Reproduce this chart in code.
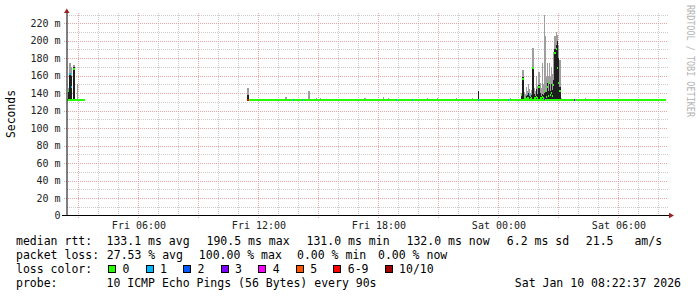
<!DOCTYPE html>
<html>
<head>
<meta charset="utf-8">
<script src="https://cdn.jsdelivr.net/npm/d3@7"></script>
<style>
  body { margin: 0; background: #fff; }
  svg { display: block; font-family: "DejaVu Sans Mono", monospace; }
</style>
</head>
<body>
<div id="chart"></div>
<script>
// Data
const startTime = "2026-01-09 02:22:37";
const endTime = "2026-01-10 08:22:37";

const yTickValues = [0, 20, 40, 60, 80, 100, 120, 140, 160, 180, 200, 220];
const yMinorValues = [10, 30, 50, 70, 90, 110, 130, 150, 170, 190, 210, 230];

const lossLabels = ["0", "1", "2", "3", "4", "5", "6-9", "10/10"];
const lossColors = ["#26ff00", "#00b8ff", "#0059ff", "#7e00ff", "#ff00ff", "#ff5500", "#ff0000", "#a00000"];

const rttFloor = 131.0;
const rttBase = 132.0;

// stretches where the median sits flat at 132 ms with no loss
const flatFrom = ["2026-01-09 02:26", "2026-01-09 11:32"];
const flatTo = ["2026-01-09 03:20", "2026-01-10 08:22"];

// time, minutes covered, median, dark smoke top, light smoke top (ms), loss index
const smoke = [
  ["2026-01-09 02:29", 3, 143, 143, 146, 0],
  ["2026-01-09 02:32", 6, 162, 163, 174, 1],
  ["2026-01-09 02:38", 3, 147, 160, 170, 1],
  ["2026-01-09 02:44", 6, 168, 170, 172, 0],
  ["2026-01-09 02:56", 3, 132, 132, 151, 0],
  ["2026-01-09 11:26", 6, 132, 138, 146, 6],
  ["2026-01-09 13:20", 6, 132, 132, 136, 0],
  ["2026-01-09 13:44", 3, 132, 132, 132, 1],
  ["2026-01-09 14:11", 3, 132, 132, 132, 1],
  ["2026-01-09 14:29", 6, 132, 133, 143, 0],
  ["2026-01-09 14:53", 3, 132, 132, 135, 0],
  ["2026-01-09 15:05", 3, 132, 132, 134, 0],
  ["2026-01-09 17:17", 6, 132, 132, 135, 0],
  ["2026-01-09 18:14", 3, 132, 132, 135.5, 0],
  ["2026-01-09 18:29", 3, 132, 132, 134, 0],
  ["2026-01-09 18:53", 3, 132, 132, 132, 1],
  ["2026-01-09 19:41", 3, 132, 132, 132, 1],
  ["2026-01-09 20:26", 3, 132, 132, 134, 0],
  ["2026-01-09 20:56", 3, 132, 132, 135, 0],
  ["2026-01-09 21:53", 3, 132, 132, 135, 0],
  ["2026-01-09 22:41", 3, 132, 132, 134, 0],
  ["2026-01-09 22:59", 3, 132, 142, 142, 1],
  ["2026-01-10 00:29", 3, 132, 132, 132, 1],
  ["2026-01-10 00:35", 3, 132, 132, 135, 0],
  ["2026-01-10 01:08", 3, 138, 138, 140, 0],
  ["2026-01-10 01:11", 6, 155.8, 158.5, 166, 0],
  ["2026-01-10 01:17", 3, 134, 136, 141, 0],
  ["2026-01-10 01:20", 3, 133, 135, 139, 0],
  ["2026-01-10 01:23", 3, 133, 137, 147, 0],
  ["2026-01-10 01:26", 3, 134, 138, 142, 0],
  ["2026-01-10 01:29", 3, 135, 140, 150, 0],
  ["2026-01-10 01:32", 3, 137.5, 139, 145, 1],
  ["2026-01-10 01:35", 3, 133, 136, 140, 0],
  ["2026-01-10 01:38", 3, 134, 138, 144, 0],
  ["2026-01-10 01:41", 6, 168.4, 169.6, 191.4, 0],
  ["2026-01-10 01:47", 3, 135, 139, 146, 0],
  ["2026-01-10 01:50", 3, 134, 137, 143, 0],
  ["2026-01-10 01:53", 3, 136, 145, 160, 0],
  ["2026-01-10 01:56", 3, 134, 139, 148, 0],
  ["2026-01-10 01:59", 6, 146.7, 149, 164, 0],
  ["2026-01-10 02:05", 3, 135, 140, 152, 0],
  ["2026-01-10 02:08", 3, 134, 137, 146, 0],
  ["2026-01-10 02:11", 3, 136, 139, 174, 0],
  ["2026-01-10 02:14", 3, 134, 138, 150, 0],
  ["2026-01-10 02:17", 3, 133, 140, 229, 3],
  ["2026-01-10 02:20", 3, 142, 143, 205, 0],
  ["2026-01-10 02:23", 3, 136, 141, 158, 0],
  ["2026-01-10 02:26", 3, 146.7, 151.3, 175, 0],
  ["2026-01-10 02:29", 3, 137, 142, 160, 0],
  ["2026-01-10 02:32", 3, 151.3, 152.4, 174, 0],
  ["2026-01-10 02:35", 3, 138, 143, 158, 0],
  ["2026-01-10 02:38", 3, 140, 151, 170, 0],
  ["2026-01-10 02:41", 3, 137, 144, 162, 0],
  ["2026-01-10 02:44", 3, 149, 154.7, 186.8, 0],
  ["2026-01-10 02:47", 6, 185.6, 191, 205, 0],
  ["2026-01-10 02:53", 3, 190.5, 195, 210, 0],
  ["2026-01-10 02:56", 3, 168.4, 200, 206, 0],
  ["2026-01-10 02:59", 3, 151.3, 180, 195, 0],
  ["2026-01-10 03:02", 6, 143, 147, 178, 0],
  ["2026-01-10 03:08", 3, 132, 132, 135, 0],
  ["2026-01-10 03:47", 3, 132, 132, 132, 3],
  ["2026-01-10 04:20", 3, 132, 132, 134, 0],
];

const rttStats = ["133.1 ms avg", "190.5 ms max", "131.0 ms min", "132.0 ms now", "6.2 ms sd", "21.5", "am/s"];
const lossStats = ["27.53 % avg", "100.00 % max", "0.00 % min", "0.00 % now"];
const probeText = "10 ICMP Echo Pings (56 Bytes) every 90s";
const stampText = "Sat Jan 10 08:22:37 2026";

// Dimensions
const dimensions = {
  width: 697,
  height: 297,
  left: 66,
  right: 666,
  top: 14.5,
  bottom: 215.5,
};

const gridMinor = "#cccccc";
const gridMajor = "#e8a6a6";
const arrowColor = "#9a1f1f";

const parseTime = d3.timeParse("%Y-%m-%d %H:%M");
const parseFull = d3.timeParse("%Y-%m-%d %H:%M:%S");
const crisp = (v) => Math.round(v) + 0.5;

const svg = d3
  .select("#chart")
  .append("svg")
  .attr("width", dimensions.width)
  .attr("height", dimensions.height);

// Scales
const xScale = d3
  .scaleTime()
  .domain([parseFull(startTime), parseFull(endTime)])
  .range([dimensions.left, dimensions.right]);

const yScale = d3
  .scaleLinear()
  .domain([0, 230])
  .range([dimensions.bottom, dimensions.top]);

// Grid
const grid = svg.append("g").attr("shape-rendering", "crispEdges");

grid
  .selectAll(".hminor")
  .data(yMinorValues)
  .join("line")
  .attr("x1", 67)
  .attr("x2", 668)
  .attr("y1", (d) => crisp(yScale(d)))
  .attr("y2", (d) => crisp(yScale(d)))
  .attr("stroke", gridMinor)
  .attr("stroke-dasharray", "1,1");

const hours = xScale.ticks(d3.timeHour.every(1));

grid
  .selectAll(".vminor")
  .data(hours.filter((d) => d.getHours() % 3 !== 0))
  .join("line")
  .attr("x1", (d) => crisp(xScale(d)))
  .attr("x2", (d) => crisp(xScale(d)))
  .attr("y1", 13)
  .attr("y2", 215)
  .attr("stroke", gridMinor)
  .attr("stroke-dasharray", "1,1");

grid
  .selectAll(".hmajor")
  .data(yTickValues.filter((d) => d > 0))
  .join("line")
  .attr("x1", 64)
  .attr("x2", 668)
  .attr("y1", (d) => crisp(yScale(d)))
  .attr("y2", (d) => crisp(yScale(d)))
  .attr("stroke", gridMajor)
  .attr("stroke-dasharray", "1,1");

grid
  .selectAll(".vmajor")
  .data(hours.filter((d) => d.getHours() % 3 === 0))
  .join("line")
  .attr("x1", (d) => crisp(xScale(d)))
  .attr("x2", (d) => crisp(xScale(d)))
  .attr("y1", 13)
  .attr("y2", 218)
  .attr("stroke", gridMajor)
  .attr("stroke-dasharray", "1,1");

// Smoke
const rows = smoke.map((d) => {
  const t0 = parseTime(d[0]);
  return {
    t0,
    t1: d3.timeMinute.offset(t0, d[1]),
    median: d[2],
    dark: d[3],
    top: d[4],
    loss: d[5],
  };
});

const colX = (d) => Math.round(xScale(d.t0));
const colW = (d) => Math.round(xScale(d.t1)) - Math.round(xScale(d.t0));

const marks = svg.append("g").attr("shape-rendering", "crispEdges");

marks
  .selectAll(".smoke")
  .data(rows.filter((d) => d.top > rttBase))
  .join("rect")
  .attr("x", colX)
  .attr("width", colW)
  .attr("y", (d) => yScale(d.top))
  .attr("height", (d) => yScale(rttFloor) - yScale(d.top))
  .attr("fill", "#9e9e9e");

marks
  .selectAll(".dark")
  .data(rows.filter((d) => d.dark > rttBase))
  .join("rect")
  .attr("x", colX)
  .attr("width", colW)
  .attr("y", (d) => yScale(d.dark))
  .attr("height", (d) => yScale(rttFloor) - yScale(d.dark))
  .attr("fill", "#1e1e1e");

// Flat median stretches
marks
  .selectAll(".flat")
  .data(flatFrom.map((d, i) => [parseTime(d), parseTime(flatTo[i])]))
  .join("rect")
  .attr("x", (d) => Math.round(xScale(d[0])))
  .attr("width", (d) => Math.round(xScale(d[1])) - Math.round(xScale(d[0])))
  .attr("y", yScale(rttBase) - 1)
  .attr("height", 2)
  .attr("fill", lossColors[0]);

// Median, coloured by loss
marks
  .selectAll(".median")
  .data(rows)
  .join("rect")
  .attr("x", colX)
  .attr("width", colW)
  .attr("y", (d) => yScale(d.median) - 1)
  .attr("height", 2)
  .attr("fill", (d) => lossColors[d.loss]);

// Axes
const yAxis = d3
  .axisLeft(yScale)
  .tickValues(yTickValues)
  .tickSize(0)
  .tickPadding(6)
  .tickFormat((d) => (d === 0 ? "0" : `${d} m`));

const yAxisGroup = svg
  .append("g")
  .attr("transform", "translate(66.5,0)")
  .call(yAxis);

const xAxis = d3
  .axisBottom(xScale)
  .ticks(d3.timeHour.every(6))
  .tickSize(0)
  .tickPadding(6)
  .tickFormat(d3.timeFormat("%a %H:%M"));

const xAxisGroup = svg
  .append("g")
  .attr("transform", "translate(0,215.5)")
  .call(xAxis);

[yAxisGroup, xAxisGroup].forEach((g) => {
  g.select(".domain").remove();
  g.selectAll("text")
    .attr("font-family", "DejaVu Sans Mono")
    .attr("font-size", 10)
    .attr("fill", "#222");
});

svg
  .append("line")
  .attr("x1", 67)
  .attr("x2", 67)
  .attr("y1", 215)
  .attr("y2", 12)
  .attr("stroke", "#000");

svg
  .append("line")
  .attr("x1", 62)
  .attr("x2", 670)
  .attr("y1", 215.5)
  .attr("y2", 215.5)
  .attr("stroke", "#000")
  .attr("shape-rendering", "crispEdges");

svg
  .append("path")
  .attr("d", "M64,13 L69.5,13 L66.8,8.5 Z")
  .attr("fill", arrowColor);

svg
  .append("path")
  .attr("d", "M669,212.8 L669,218.3 L674,215.5 Z")
  .attr("fill", arrowColor);

// Titles
svg
  .append("text")
  .attr("transform", "translate(15,114) rotate(-90)")
  .attr("text-anchor", "middle")
  .attr("font-size", 11.4)
  .attr("fill", "#000")
  .text("Seconds");

svg
  .append("text")
  .attr("transform", "translate(687,5) rotate(90)")
  .attr("font-size", 10)
  .attr("textLength", 112)
  .attr("lengthAdjust", "spacingAndGlyphs")
  .attr("fill", "#b4b4b4")
  .text("RRDTOOL / TOBI OETIKER");

// Legend
const legend = svg.append("g").attr("font-size", 11.5).attr("fill", "#000");

const rttX = [106.5, 206.5, 306.5, 406.5, 506.8, 585.8, 634.4];
const lossX = [106.8, 198.8, 297, 378];

legend.append("text").attr("x", 16).attr("y", 245).text("median rtt:");
rttStats.forEach((s, i) => {
  legend.append("text").attr("x", rttX[i]).attr("y", 245).text(s);
});

legend.append("text").attr("x", 16).attr("y", 259).text("packet loss:");
lossStats.forEach((s, i) => {
  legend.append("text").attr("x", lossX[i]).attr("y", 259).text(s);
});

legend.append("text").attr("x", 16).attr("y", 273).text("loss color:");
let boxX = 108.5;
lossLabels.forEach((label, i) => {
  legend
    .append("rect")
    .attr("x", boxX)
    .attr("y", 265.5)
    .attr("width", 7)
    .attr("height", 7)
    .attr("fill", lossColors[i])
    .attr("stroke", "#000")
    .attr("shape-rendering", "crispEdges");
  const t = legend
    .append("text")
    .attr("x", boxX + 14)
    .attr("y", 273)
    .text(label);
  boxX += 14 + t.node().getComputedTextLength() + 16.6;
});

legend.append("text").attr("x", 16).attr("y", 287).text("probe:");
legend.append("text").attr("x", 106.5).attr("y", 287).text(probeText);
legend
  .append("text")
  .attr("x", 681)
  .attr("y", 287)
  .attr("text-anchor", "end")
  .text(stampText);
</script>
</body>
</html>
